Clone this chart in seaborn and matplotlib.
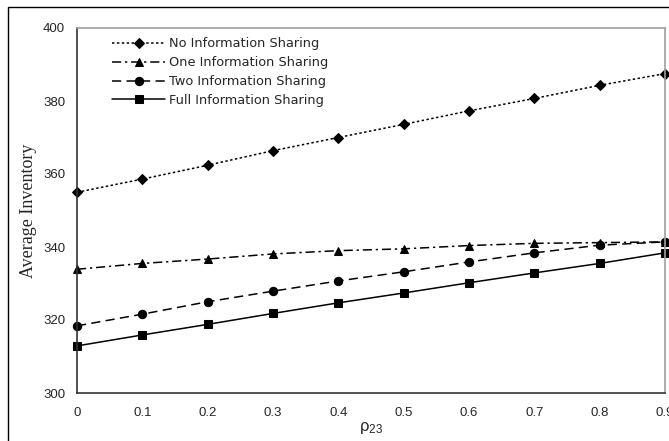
import matplotlib
matplotlib.use("Agg")
import matplotlib.pyplot as plt
import seaborn as sns
import numpy as np
import pandas as pd
from matplotlib.patches import Rectangle

rho = [0, 0.1, 0.2, 0.3, 0.4, 0.5, 0.6, 0.7, 0.8, 0.9]
no_info = [355.0, 358.6, 362.4, 366.4, 370.0, 373.6, 377.3, 380.7, 384.3, 387.5]
one_info = [333.9, 335.5, 336.7, 338.1, 339.0, 339.5, 340.4, 341.0, 341.2, 341.4]
two_info = [318.4, 321.6, 325.0, 327.9, 330.7, 333.2, 335.9, 338.4, 340.5, 341.4]
full_info = [312.9, 315.9, 318.8, 321.8, 324.7, 327.4, 330.2, 332.9, 335.5, 338.4]
series_names = ["No Information Sharing", "One Information Sharing",
                "Two Information Sharing", "Full Information Sharing"]
yticks = [300, 320, 340, 360, 380, 400]
xtick_labels = ["0", "0.1", "0.2", "0.3", "0.4", "0.5", "0.6", "0.7", "0.8", "0.9"]

sns.set_style("white")
plt.rcParams['font.family'] = ['Liberation Sans', 'DejaVu Sans']

fig = plt.figure(figsize=(6.69, 4.41), dpi=100)
ax = fig.add_axes([77/669, 1-393/441, (665-77)/669, (393-28)/441])

styles = [
    dict(ls=(0, (1.6, 1.6)), marker="D", ms=5),
    dict(ls=(0, (6, 2.5, 1.5, 2.5)), marker="^", ms=6),
    dict(ls=(0, (6, 3.5)), marker="o", ms=6),
    dict(ls="-", marker="s", ms=5.5),
]
data = [no_info, one_info, two_info, full_info]
for name, vals, st in zip(series_names, data, styles):
    df = pd.DataFrame({"rho": rho, "val": vals})
    sns.lineplot(data=df, x="rho", y="val", ax=ax, color="black",
                 linestyle=st["ls"], marker=st["marker"], markersize=st["ms"],
                 markeredgecolor="black", markerfacecolor="black",
                 linewidth=1.1, label=name, clip_on=False)

ax.set_xlim(0, 0.9)
ax.set_ylim(300, 400)
ax.set_xticks(rho)
ax.set_xticklabels(xtick_labels)
ax.set_yticks(yticks)
ax.tick_params(direction="in", length=4, width=0.8, color="#333333",
               labelsize=9.5)
ax.tick_params(axis="y", pad=8.5)
ax.tick_params(axis="x", pad=10)

for s in ["left", "bottom"]:
    ax.spines[s].set_color("#333333")
    ax.spines[s].set_linewidth(1.2)
for s in ["top", "right"]:
    ax.spines[s].set_color("#a0a0a0")
    ax.spines[s].set_linewidth(1.2)
    ax.spines[s].set_visible(True)

ax.set_xlabel(r"$\mathregular{\rho_{23}}$", fontsize=12, labelpad=1)
ax.set_ylabel("Average Inventory", fontsize=13, family=["Liberation Serif"])
ax.yaxis.set_label_coords(-0.068, 0.5)

leg = ax.legend(loc="upper left", bbox_to_anchor=(0.04, 1.006), frameon=False,
                prop={"family": "DejaVu Sans", "size": 9.3},
                handlelength=4.1, labelspacing=0.45, handletextpad=0.3)

fig.patches.append(Rectangle((8/669, -0.1), 1.2, 1 - 7/441 + 0.1,
                             transform=fig.transFigure, fill=False,
                             edgecolor="black", linewidth=1.0))

fig.savefig("out.png", dpi=100)
